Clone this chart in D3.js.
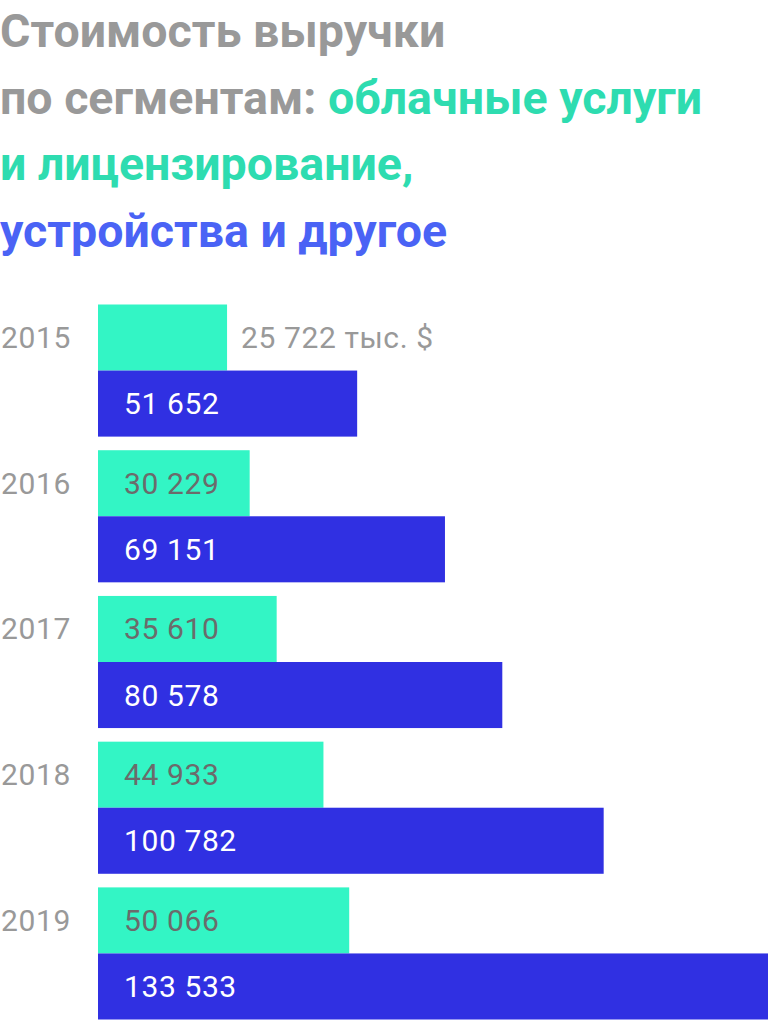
<!DOCTYPE html>
<html>
<head>
<meta charset="utf-8">
<script src="https://cdn.jsdelivr.net/npm/d3@7"></script>
<style>
  html, body { margin: 0; padding: 0; background: #fff; }
  svg { display: block; font-family: Roboto, "Noto Sans", sans-serif; }
</style>
</head>
<body>
<div id="chart"></div>
<script>
var years = ["2015", "2016", "2017", "2018", "2019"];
var cloud = [25722, 30229, 35610, 44933, 50066];
var devices = [51652, 69151, 80578, 100782, 133533];
var series = ["cloud", "devices"];

var width = 768, height = 1022;
var colors = {cloud: "#33f5c5", devices: "#3030e2"};
var labelColors = {cloud: "#6b6b6b", devices: "#ffffff"};

var svg = d3.select("#chart").append("svg")
  .attr("width", width)
  .attr("height", height);

// title, 4 lines, mixed colours
var titleLines = [
  [["Стоимость выручки", "#999999"]],
  [["по сегментам: ", "#999999"], ["облачные услуги", "#2edcb0"]],
  [["и лицензирование,", "#2edcb0"]],
  [["устройства и другое", "#4a63f5"]]
];
var title = svg.append("text")
  .attr("font-size", 46.5)
  .attr("font-weight", 700)
  .attr("letter-spacing", 0);
titleLines.forEach(function(line, i) {
  line.forEach(function(part, j) {
    var t = title.append("tspan")
      .attr("fill", part[1])
      .text(part[0]);
    if (j === 0) t.attr("x", 0).attr("y", 47 + i * 66.5);
  });
});

var x = d3.scaleLinear()
  .domain([0, d3.max(devices)])
  .range([98, width]);

var y = d3.scaleBand()
  .domain(years)
  .range([304.5, 1019.5])
  .paddingInner(0.0934)
  .paddingOuter(0);

var ySub = d3.scaleBand()
  .domain(series)
  .range([0, y.bandwidth()]);

var data = years.map(function(yr, i) {
  return {year: yr, cloud: cloud[i], devices: devices[i]};
});

var fmt = function(v) { return d3.format(",")(v).replace(/,/g, " "); };

var groups = svg.selectAll(".year")
  .data(data)
  .enter().append("g")
  .attr("class", "year")
  .attr("transform", function(d) { return "translate(0," + y(d.year) + ")"; });

groups.append("text")
  .attr("x", 1)
  .attr("y", ySub("cloud") + ySub.bandwidth() / 2)
  .attr("dy", "0.35em")
  .attr("font-size", 30)
  .attr("letter-spacing", 0.6)
  .attr("fill", "#999999")
  .text(function(d) { return d.year; });

series.forEach(function(s) {
  groups.append("rect")
    .attr("x", x(0))
    .attr("y", ySub(s))
    .attr("width", function(d) { return x(d[s]) - x(0); })
    .attr("height", ySub.bandwidth())
    .attr("fill", colors[s]);

  groups.append("text")
    .attr("x", function(d, i) {
      return (s === "cloud" && i === 0) ? x(d[s]) + 14 : x(0) + 26;
    })
    .attr("y", ySub(s) + ySub.bandwidth() / 2)
    .attr("dy", "0.35em")
    .attr("font-size", 30)
    .attr("letter-spacing", 0.6)
    .attr("fill", function(d, i) {
      return (s === "cloud" && i === 0) ? "#999999" : labelColors[s];
    })
    .text(function(d, i) {
      return (s === "cloud" && i === 0) ? fmt(d[s]) + " тыс. $" : fmt(d[s]);
    });
});
</script>
</body>
</html>
